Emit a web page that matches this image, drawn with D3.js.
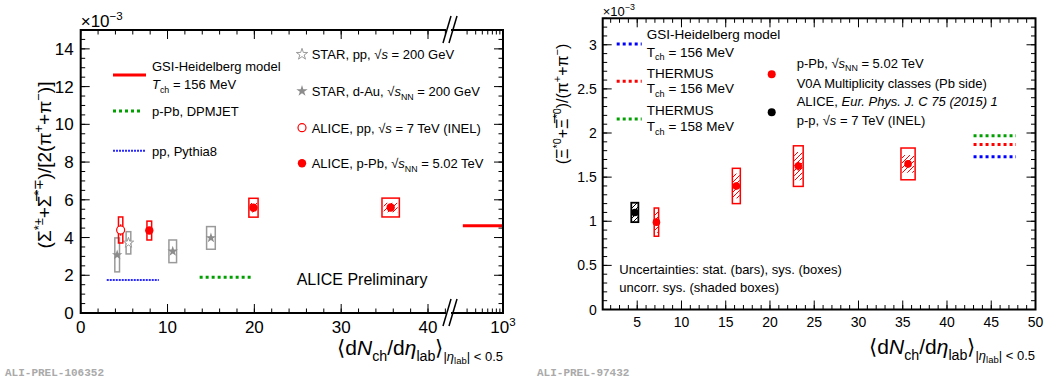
<!DOCTYPE html>
<html>
<head>
<meta charset="utf-8">
<script src="https://cdn.jsdelivr.net/npm/d3@7"></script>
<style>
  body { margin: 0; background: #fff; }
  text { font-family: "Liberation Sans", Arial, sans-serif; fill: #000; }
</style>
</head>
<body>
<svg id="chart" width="1054" height="381"></svg>
<script>
// ---- left panel: Sigma*/pi ----
const sigAlicePPbX = [7.9, 19.9, 35.7];
const sigAlicePPbY = [4.37, 5.58, 5.59];
const sigAlicePPbStat = [0.15, 0.15, 0.12];
const sigAlicePPbSys = [0.5, 0.5, 0.5];
const sigAlicePPbDx = [0.27, 0.53, 1.0];

const sigAlicePPX = [4.6];
const sigAlicePPY = [4.40];
const sigAlicePPStat = [0.3];
const sigAlicePPSys = [0.69];
const sigAlicePPDx = [0.25];

const sigStarPPX = [5.5];
const sigStarPPY = [3.72];
const sigStarPPSys = [0.59];
const sigStarPPDx = [0.27];

const sigStarDAuX = [4.2, 10.6, 15.0];
const sigStarDAuY = [3.08, 3.27, 3.98];
const sigStarDAuSys = [0.9, 0.6, 0.6];
const sigStarDAuDx = [0.27, 0.44, 0.5];

const pythiaX = [3.0, 9.0], pythiaY = 1.75;
const dpmjetX = [13.7, 19.6], dpmjetY = 1.89;
const gsiSigmaX = [260, 1000], gsiSigmaY = 4.63;

const leftYTicks = [0, 2, 4, 6, 8, 10, 12, 14];
const leftXTicks = [0, 10, 20, 30, 40];

// ---- right panel: Xi*0/pi ----
const xiPPbX = [7.17, 16.2, 23.2, 35.6];
const xiPPbY = [0.99, 1.40, 1.625, 1.65];
const xiPPbStat = [0.04, 0.04, 0.05, 0.04];
const xiPPbSys = [0.16, 0.2, 0.23, 0.18];
const xiPPbUnc = [0.12, 0.14, 0.16, 0.1];
const xiPPbDx = [0.25, 0.45, 0.55, 0.8];

const xiPPX = [4.73];
const xiPPY = [1.10];
const xiPPSys = [0.11];
const xiPPDx = [0.4];

const xiModelX = [43.0, 47.8];
const xiGsiY = 1.73, xiThermus156Y = 1.87, xiThermus158Y = 1.97;

const rightYTicks = [0, 0.5, 1, 1.5, 2, 2.5, 3];
const rightXTicks = [5, 10, 15, 20, 25, 30, 35, 40, 45, 50];

const RED = '#ff0000', GREEN = '#00a000', BLUE = '#0000ff', GRAY = '#9a9a9a';

const svg = d3.select('#chart');

// text with sub/superscripts: parts {t, s: shift(em), k: size factor, i: italic}
function rich(parent, x, y, size, parts, anchor, rotate) {
    const t = parent.append('text')
        .attr('transform', `translate(${x},${y})` + (rotate ? ' rotate(-90)' : ''))
        .attr('font-size', size)
        .attr('text-anchor', anchor || 'start');
    let cur = 0;
    parts.forEach(p => {
        const part = typeof p === 'string' ? { t: p } : p;
        const shift = (part.s || 0) * size;
        const ts = t.append('tspan').attr('dy', shift - cur).text(part.t);
        if (part.k) ts.attr('font-size', size * part.k);
        if (part.i) ts.attr('font-style', 'italic');
        cur = shift;
    });
    return t;
}
const SUP = (t, i) => ({ t, s: -0.42, k: 0.68, i });
const SUB = (t, i) => ({ t, s: 0.28, k: 0.68, i });

// hatch patterns
const defs = svg.append('defs');
[['hatchRed', RED], ['hatchBlack', '#000']].forEach(([id, c]) => {
    defs.append('pattern').attr('id', id)
        .attr('patternUnits', 'userSpaceOnUse').attr('width', 5).attr('height', 5)
        .append('path').attr('d', 'M-1,6 L6,-1').attr('stroke', c).attr('stroke-width', 1);
});

function ticks(g, scale, vals, len, orient, pos) {
    // orient: 'bottom' | 'top' | 'left' | 'right'; ticks point inside
    g.selectAll(null).data(vals).enter().append('line')
        .attr('x1', d => orient === 'left' || orient === 'right' ? pos : scale(d))
        .attr('x2', d => orient === 'left' ? pos + len : orient === 'right' ? pos - len : scale(d))
        .attr('y1', d => orient === 'top' || orient === 'bottom' ? pos : scale(d))
        .attr('y2', d => orient === 'bottom' ? pos - len : orient === 'top' ? pos + len : scale(d))
        .attr('stroke', '#000').attr('stroke-width', 1);
}

function sysBoxes(g, xs, ys, sys, dx, x, y, color, fill, width) {
    g.selectAll(null).data(xs).enter().append('rect')
        .attr('x', (d, i) => x(d - dx[i]))
        .attr('y', (d, i) => y(ys[i] + sys[i]))
        .attr('width', (d, i) => x(d + dx[i]) - x(d - dx[i]))
        .attr('height', (d, i) => y(ys[i] - sys[i]) - y(ys[i] + sys[i]))
        .attr('fill', fill || 'none').attr('stroke', color).attr('stroke-width', width || 1.5);
}

function statBars(g, xs, ys, stat, x, y, color) {
    g.selectAll(null).data(xs).enter().append('line')
        .attr('x1', d => x(d)).attr('x2', d => x(d))
        .attr('y1', (d, i) => y(ys[i] + stat[i]))
        .attr('y2', (d, i) => y(ys[i] - stat[i]))
        .attr('stroke', color).attr('stroke-width', 1.5);
}

function hline(g, x1, x2, y, color, width, dash) {
    const l = g.append('line').attr('x1', x1).attr('x2', x2).attr('y1', y).attr('y2', y)
        .attr('stroke', color).attr('stroke-width', width);
    if (dash) l.attr('stroke-dasharray', dash);
    return l;
}

// ================= LEFT PANEL =================
const L = { left: 80.7, right: 503, top: 30, bottom: 313 };
const xL = d3.scaleLinear().domain([0, 40]).range([L.left, 428]);
const xLog = d3.scaleLog().domain([200, 1000]).range([455, L.right]);
const yL = d3.scaleLinear().domain([0, 15]).range([L.bottom, L.top]);
const gL = svg.append('g');

// ticks
const lyMinor = d3.range(0, 15.01, 0.5);
const lxMinor = d3.range(0, 42.1, 2);
ticks(gL, yL, leftYTicks, 9, 'left', L.left);
ticks(gL, yL, lyMinor, 4.5, 'left', L.left);
ticks(gL, yL, leftYTicks, 9, 'right', L.right);
ticks(gL, yL, lyMinor, 4.5, 'right', L.right);
ticks(gL, xL, leftXTicks, 9, 'bottom', L.bottom);
ticks(gL, xL, lxMinor, 4.5, 'bottom', L.bottom);
ticks(gL, xL, leftXTicks, 9, 'top', L.top);
ticks(gL, xL, lxMinor, 4.5, 'top', L.top);
ticks(gL, xLog, [300, 400, 500, 600, 700, 800, 900], 4.5, 'bottom', L.bottom);
ticks(gL, xLog, [300, 400, 500, 600, 700, 800, 900], 4.5, 'top', L.top);

gL.selectAll(null).data(leftYTicks).enter().append('text')
    .attr('x', L.left - 7).attr('y', d => yL(d) + 6)
    .attr('text-anchor', 'end').attr('font-size', 17).text(d => d);
gL.selectAll(null).data(leftXTicks).enter().append('text')
    .attr('x', d => xL(d)).attr('y', 333)
    .attr('text-anchor', 'middle').attr('font-size', 17).text(d => d);
rich(gL, L.right, 333, 17, ['10', SUP('3')], 'middle');
rich(gL, L.left, 27, 17, ['×10', SUP('−3')]);

// models
hline(gL, xL(pythiaX[0]), xL(pythiaX[1]), yL(pythiaY), '#2a2aff', 2, '2,1');
hline(gL, xL(dpmjetX[0]), xL(dpmjetX[1]), yL(dpmjetY), GREEN, 3, '3,3');
hline(gL, xLog(gsiSigmaX[0]), xLog(gsiSigmaX[1]), yL(gsiSigmaY), RED, 3);

// STAR
sysBoxes(gL, sigStarDAuX, sigStarDAuY, sigStarDAuSys, sigStarDAuDx, xL, yL, GRAY);
sysBoxes(gL, sigStarPPX, sigStarPPY, sigStarPPSys, sigStarPPDx, xL, yL, GRAY);
const star = d3.symbol().type(d3.symbolStar).size(34);
gL.selectAll(null).data(sigStarDAuX).enter().append('path')
    .attr('d', star).attr('transform', (d, i) => `translate(${xL(d)},${yL(sigStarDAuY[i])})`)
    .attr('fill', '#8c8c8c');
gL.selectAll(null).data(sigStarPPX).enter().append('path')
    .attr('d', star).attr('transform', (d, i) => `translate(${xL(d)},${yL(sigStarPPY[i])})`)
    .attr('fill', '#fff').attr('stroke', GRAY).attr('stroke-width', 1);

// ALICE
sysBoxes(gL, sigAlicePPX, sigAlicePPY, sigAlicePPSys, sigAlicePPDx, xL, yL, RED);
statBars(gL, sigAlicePPX, sigAlicePPY, sigAlicePPStat, xL, yL, RED);
gL.selectAll(null).data(sigAlicePPX).enter().append('circle')
    .attr('cx', d => xL(d)).attr('cy', (d, i) => yL(sigAlicePPY[i])).attr('r', 4)
    .attr('fill', '#fff').attr('stroke', RED).attr('stroke-width', 1.2);

sysBoxes(gL, sigAlicePPbX, sigAlicePPbY, sigAlicePPbSys, sigAlicePPbDx, xL, yL, RED);
sysBoxes(gL, sigAlicePPbX.slice(1), sigAlicePPbY.slice(1), [0.25, 0.25],
    sigAlicePPbDx.slice(1).map(d => d * 0.8), xL, yL, 'none', 'url(#hatchRed)', 0);
statBars(gL, sigAlicePPbX, sigAlicePPbY, sigAlicePPbStat, xL, yL, RED);
gL.selectAll(null).data(sigAlicePPbX).enter().append('circle')
    .attr('cx', d => xL(d)).attr('cy', (d, i) => yL(sigAlicePPbY[i])).attr('r', 4.2)
    .attr('fill', RED);

// frame
gL.append('rect').attr('x', L.left).attr('y', L.top)
    .attr('width', L.right - L.left).attr('height', L.bottom - L.top)
    .attr('fill', 'none').attr('stroke', '#000').attr('stroke-width', 2);

// axis break marks
[L.top, L.bottom].forEach(yb => {
    gL.append('rect').attr('x', 446).attr('y', yb - 2).attr('width', 5).attr('height', 4).attr('fill', '#fff');
    [0, 6].forEach(off => {
        gL.append('line').attr('x1', 443 + off).attr('y1', yb + 13).attr('x2', 451 + off).attr('y2', yb - 14)
            .attr('stroke', '#000').attr('stroke-width', 1.5);
    });
});

// legend left
hline(gL, 113, 146, 75, RED, 3);
rich(gL, 152, 71, 13, ['GSI-Heidelberg model']);
rich(gL, 152, 89, 13, [{ t: 'T', i: 1 }, SUB('ch'), ' = 156 MeV']);
hline(gL, 113, 142, 111, GREEN, 3, '3,3');
rich(gL, 152, 116, 13, ['p-Pb, DPMJET']);
hline(gL, 113, 145, 150.7, '#2a2aff', 2, '2,1');
rich(gL, 152, 155.5, 13, ['pp, Pythia8']);

gL.append('path').attr('d', d3.symbol().type(d3.symbolStar).size(40))
    .attr('transform', 'translate(302,54.3)').attr('fill', '#fff').attr('stroke', GRAY);
rich(gL, 311.7, 59, 13, ['STAR, pp, √', { t: 's', i: 1 }, ' = 200 GeV']);
gL.append('path').attr('d', d3.symbol().type(d3.symbolStar).size(40))
    .attr('transform', 'translate(302,91)').attr('fill', '#8c8c8c');
rich(gL, 311.7, 96, 13, ['STAR, d-Au, √', { t: 's', i: 1 }, SUB('NN'), ' = 200 GeV']);
gL.append('circle').attr('cx', 302).attr('cy', 127.7).attr('r', 4)
    .attr('fill', '#fff').attr('stroke', RED).attr('stroke-width', 1.2);
rich(gL, 311.7, 132.5, 13, ['ALICE, pp, √', { t: 's', i: 1 }, ' = 7 TeV (INEL)']);
gL.append('circle').attr('cx', 302).attr('cy', 163.3).attr('r', 4.2).attr('fill', RED);
rich(gL, 311.7, 168, 13, ['ALICE, p-Pb, √', { t: 's', i: 1 }, SUB('NN'), ' = 5.02 TeV']);

rich(gL, 296.7, 285, 16, ['ALICE Preliminary']);

// axis titles
rich(gL, 51, 165, 19, ['(Σ', SUP('*±'), '+Σ\u0305', SUP('*∓'), ')/[2(π', SUP('+'), '+π', SUP('−'), ')]'], 'middle', true);
const xTitleParts = ['⟨d', { t: 'N', i: 1 }, SUB('ch'), '/d', { t: 'η', i: 1 }, SUB('lab'), '⟩',
    { t: '|', s: 0.3, k: 0.62 }, { t: 'η', s: 0.3, k: 0.62, i: 1 }, { t: 'lab', s: 0.45, k: 0.45 },
    { t: '| < 0.5', s: 0.3, k: 0.62 }];
rich(gL, L.right, 355, 21, xTitleParts, 'end');

svg.append('text').attr('x', 5).attr('y', 376).attr('font-size', 11)
    .attr('font-weight', 'bold').style('font-family', '"Liberation Mono", monospace')
    .style('fill', '#aaa').text('ALI-PREL-106352');

// ================= RIGHT PANEL =================
const R = { left: 602.7, right: 1035.5, top: 18.3, bottom: 309.5 };
const xR = d3.scaleLinear().domain([1.1, 50]).range([R.left, R.right]);
const yR = d3.scaleLinear().domain([0, 3.3]).range([R.bottom, R.top]);
const gR = svg.append('g');

const ryMinor = d3.range(0, 3.301, 0.1);
const rxMinor = d3.range(2, 50, 1);
ticks(gR, yR, rightYTicks, 9, 'left', R.left);
ticks(gR, yR, ryMinor, 4.5, 'left', R.left);
ticks(gR, yR, rightYTicks, 9, 'right', R.right);
ticks(gR, yR, ryMinor, 4.5, 'right', R.right);
ticks(gR, xR, rightXTicks, 9, 'bottom', R.bottom);
ticks(gR, xR, rxMinor, 4.5, 'bottom', R.bottom);
ticks(gR, xR, rightXTicks, 9, 'top', R.top);
ticks(gR, xR, rxMinor, 4.5, 'top', R.top);

gR.selectAll(null).data(rightYTicks).enter().append('text')
    .attr('x', R.left - 6).attr('y', d => yR(d) + 5)
    .attr('text-anchor', 'end').attr('font-size', 14).text(d => d);
gR.selectAll(null).data(rightXTicks).enter().append('text')
    .attr('x', d => xR(d)).attr('y', 327)
    .attr('text-anchor', 'middle').attr('font-size', 14).text(d => d);
rich(gR, R.left, 15.5, 13, ['×10', SUP('−3')]);

// models
hline(gR, xR(xiModelX[0]), xR(xiModelX[1]), yR(xiThermus158Y), GREEN, 3, '3,3');
hline(gR, xR(xiModelX[0]), xR(xiModelX[1]), yR(xiThermus156Y), RED, 3, '3,3');
hline(gR, xR(xiModelX[0]), xR(xiModelX[1]), yR(xiGsiY), BLUE, 3, '3,3');

// pp (black)
sysBoxes(gR, xiPPX, xiPPY, xiPPSys, xiPPDx, xR, yR, '#000', 'url(#hatchBlack)', 1.8);
gR.selectAll(null).data(xiPPX).enter().append('circle')
    .attr('cx', d => xR(d)).attr('cy', (d, i) => yR(xiPPY[i])).attr('r', 3.8).attr('fill', '#000');

// p-Pb (red)
sysBoxes(gR, xiPPbX, xiPPbY, xiPPbSys, xiPPbDx, xR, yR, RED);
sysBoxes(gR, xiPPbX, xiPPbY, xiPPbUnc, xiPPbDx.map(d => d * 0.85), xR, yR, 'none', 'url(#hatchRed)', 0);
statBars(gR, xiPPbX, xiPPbY, xiPPbStat, xR, yR, RED);
gR.selectAll(null).data(xiPPbX).enter().append('circle')
    .attr('cx', d => xR(d)).attr('cy', (d, i) => yR(xiPPbY[i])).attr('r', 3.8).attr('fill', RED);

gR.append('rect').attr('x', R.left).attr('y', R.top)
    .attr('width', R.right - R.left).attr('height', R.bottom - R.top)
    .attr('fill', 'none').attr('stroke', '#000').attr('stroke-width', 2);

// legend right
hline(gR, 616.7, 641.7, 44, BLUE, 3, '3,3');
rich(gR, 646.7, 39, 13.5, ['GSI-Heidelberg model']);
rich(gR, 646.7, 56.5, 13.5, ['T', SUB('ch'), ' = 156 MeV']);
hline(gR, 616.7, 641.7, 81.3, RED, 3, '3,3');
rich(gR, 646.7, 77.5, 13.5, ['THERMUS']);
rich(gR, 646.7, 93, 13.5, ['T', SUB('ch'), ' = 156 MeV']);
hline(gR, 616.7, 641.7, 119, GREEN, 3, '3,3');
rich(gR, 646.7, 115, 13.5, ['THERMUS']);
rich(gR, 646.7, 131, 13.5, ['T', SUB('ch'), ' = 158 MeV']);

gR.append('circle').attr('cx', 771.7).attr('cy', 74.3).attr('r', 4).attr('fill', RED);
rich(gR, 796.7, 67.5, 13, ['p-Pb, √', { t: 's', i: 1 }, SUB('NN'), ' = 5.02 TeV']);
rich(gR, 796.7, 88, 13, ['V0A Multiplicity classes (Pb side)']);
gR.append('circle').attr('cx', 771.7).attr('cy', 112.3).attr('r', 4).attr('fill', '#000');
rich(gR, 796.7, 106, 13, ['ALICE, ', { t: 'Eur. Phys. J. C 75 (2015) 1', i: 1 }]);
rich(gR, 796.7, 125, 13, ['p-p, √', { t: 's', i: 1 }, ' = 7 TeV (INEL)']);

rich(gR, 619.3, 274, 13, ['Uncertainties: stat. (bars), sys. (boxes)']);
rich(gR, 619.3, 291.5, 13, ['uncorr. sys. (shaded boxes)']);

// axis titles
rich(gR, 568, 104, 16, ['(Ξ', SUP('*0'), '+Ξ\u0305', SUP('*0'), ')/(π', SUP('+'), '+π', SUP('−'), ')'], 'middle', true);
rich(gR, 1035, 354, 21, xTitleParts, 'end');

svg.append('text').attr('x', 537).attr('y', 376).attr('font-size', 11)
    .attr('font-weight', 'bold').style('font-family', '"Liberation Mono", monospace')
    .style('fill', '#aaa').text('ALI-PREL-97432');
</script>
</body>
</html>
